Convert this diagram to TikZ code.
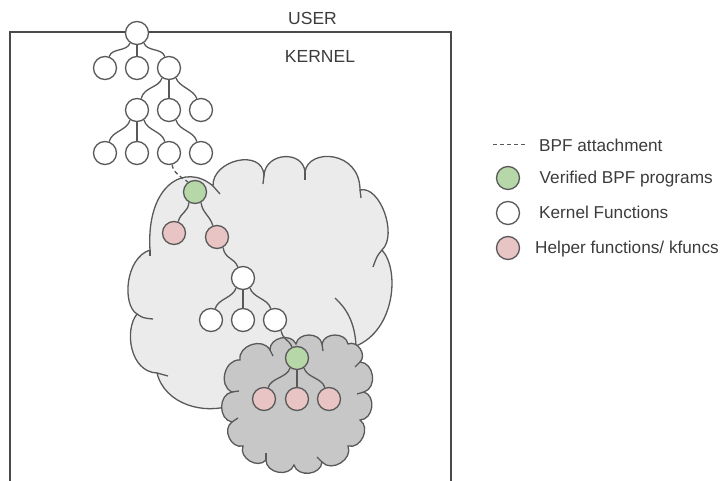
\documentclass[tikz,border=0pt]{standalone}
\usepackage{fontspec}
\setmainfont{Liberation Sans}
\definecolor{linec}{HTML}{595959}
\definecolor{boxc}{HTML}{4A4A4A}
\definecolor{cloudA}{HTML}{EBEBEB}
\definecolor{cloudB}{HTML}{C7C7C7}
\definecolor{greenf}{HTML}{B6D7A8}
\definecolor{pinkf}{HTML}{E9C4C4}
\definecolor{txtc}{HTML}{3C3C3C}
\begin{document}
\begin{tikzpicture}[x=1pt,y=-1pt,
  fn/.style={circle, draw=linec, line width=1.3pt, minimum size=23pt, inner sep=0pt, fill=white},
  vp/.style={fn, fill=greenf},
  hp/.style={fn, fill=pinkf},
  link/.style={draw=linec, line width=1.3pt},
  cl/.style={draw=linec, line width=1.3pt},
  bump/.style={bend left=80, looseness=1.2},
  lbl/.style={font=\fontsize{17.5}{20}\selectfont, inner sep=0pt, text=txtc},
  lgd/.style={font=\fontsize{17.2}{20}\selectfont, inner sep=0pt, text=txtc, anchor=base west}]
\useasboundingbox (0,0) rectangle (726,481);
% kernel box
\draw[draw=boxc, line width=2pt] (10,481) -- (10,32) -- (451,32) -- (451,481);
\node[lbl, anchor=base] (user) at (312.5,25) {USER};
\node[lbl, anchor=base] (kernel) at (320,63) {KERNEL};
% big cloud
\path[cl, fill=cloudA]
 (150,250) .. controls (146,185) and (185,162) .. (213,186)
 .. controls (212,160) and (262,148) .. (264,175)
 .. controls (266,152) and (303,150) .. (305,172)
 .. controls (308,148) and (360,150) .. (360,190)
 .. controls (380,185) and (398,235) .. (382,250)
 .. controls (400,270) and (395,330) .. (356,346)
 -- (340,380) -- (232,405)
 .. controls (205,415) and (165,405) .. (157,373)
 .. controls (130,372) and (124,330) .. (137,314)
 .. controls (122,305) and (125,258) .. (150,250) -- cycle;
\draw[cl] (213,186) -- (220,194);
\draw[cl] (264,175) -- (263,184);
\draw[cl] (305,172) -- (305,180);
\draw[cl] (360,190) -- (361,198);
\draw[cl] (382,250) .. controls (377,256) .. (373,267);
\draw[cl] (335,298) .. controls (346,308) and (355,322) .. (356,346);
\draw[cl] (137,314) .. controls (143,318) .. (153,319);
\draw[cl] (157,373) -- (168,376);
\draw[cl] (150,250) -- (150,256);
% small cloud
\path[cl, fill=cloudB] (240,360) to[bump] (270,350) to[bump] (296,344) to[bump] (322,344)
 to[bump] (348,344) to[bump] (360,362) to[bump] (364,392) to[bump] (360,420)
 to[bump] (348,446) to[bump] (322,462) to[bump] (294,465) to[bump] (266,460)
 to[bump] (243,446) to[bump] (232,422) to[bump] (232,392) to[bump] (240,360) -- cycle;
\draw[cl] (270,350) -- (273,356);
\draw[cl] (322,344) -- (323,351);
\draw[cl] (360,362) -- (355,367);
\draw[cl] (364,392) -- (357,394);
\draw[cl] (322,462) -- (317,457);
\draw[cl] (266,460) -- (266,453);
\draw[cl] (232,422) -- (238,418);
\draw[cl] (232,392) -- (239,391);
% nodes
\node[fn] (r) at (137,33) {};
\node[fn] (a1) at (105,68) {};
\node[fn] (a2) at (137,68) {};
\node[fn] (a3) at (169,68) {};
\node[fn] (b1) at (137,110) {};
\node[fn] (b2) at (169,110) {};
\node[fn] (b3) at (201,110) {};
\node[fn] (c1) at (105,153) {};
\node[fn] (c2) at (137,153) {};
\node[fn] (c3) at (169,153) {};
\node[fn] (c4) at (201,153) {};
\node[vp] (g1) at (195,192) {};
\node[hp] (p1) at (174,233) {};
\node[hp] (p2) at (217,237) {};
\node[fn] (w0) at (243,278) {};
\node[fn] (w1) at (211,320) {};
\node[fn] (w2) at (243,320) {};
\node[fn] (w3) at (275,320) {};
\node[vp] (g2) at (297,358) {};
\node[hp] (q1) at (264,399) {};
\node[hp] (q2) at (297,399) {};
\node[hp] (q3) at (329,399) {};
% edges
\draw[link] (r) -- (a2);
\draw[link] (r.235) .. controls +(-3,9) and +(3,-9) .. (a1.70);
\draw[link] (r.305) .. controls +(3,9) and +(-3,-9) .. (a3.110);
\draw[link] (a3) -- (b2);
\draw[link] (a3.235) .. controls +(-3,10) and +(3,-12) .. (b1.70);
\draw[link] (a3.305) .. controls +(3,9) and +(-3,-9) .. (b3.110);
\draw[link] (b1) -- (c2);
\draw[link] (b1.235) .. controls +(-3,11) and +(3,-11) .. (c1.70);
\draw[link] (b1.305) .. controls +(3,11) and +(-3,-11) .. (c3.110);
\draw[link] (b2.305) .. controls +(3,11) and +(-3,-11) .. (c4.110);
\draw[link, dash pattern=on 4pt off 3pt] (c3.285) .. controls +(1,8) and +(-7,-5) .. (g1.125);
\draw[link] (g1.240) .. controls +(-1,10) and +(3,-10) .. (p1.70);
\draw[link] (g1.300) .. controls +(1,10) and +(-3,-10) .. (p2.110);
\draw[link] (p2.300) .. controls +(2,12) and +(-4,-10) .. (w0.115);
\draw[link] (w0) -- (w2);
\draw[link] (w0.235) .. controls +(-3,10) and +(3,-10) .. (w1.70);
\draw[link] (w0.305) .. controls +(3,10) and +(-3,-10) .. (w3.110);
\draw[link] (w3.300) .. controls +(2,10) and +(-3,-8) .. (g2.115);
\draw[link] (g2) -- (q2);
\draw[link] (g2.235) .. controls +(-3,10) and +(3,-10) .. (q1.70);
\draw[link] (g2.305) .. controls +(3,10) and +(-3,-10) .. (q3.110);
% legend
\coordinate (d1) at (493,145);
\coordinate (d2) at (527,145);
\draw[link, line width=1pt, dash pattern=on 4pt off 3pt] (d1) -- (d2);
\node[lgd] (t1) at (539,152) {BPF attachment};
\node[vp] (lg) at (508,178) {};
\node[lgd] (t2) at (539.5,184) {Verified BPF programs};
\node[fn] (lk) at (508,213) {};
\node[lgd] (t3) at (539,219) {Kernel Functions};
\node[hp] (lh) at (508,248) {};
\node[lgd] (t4) at (535,254) {Helper functions/ kfuncs};
\end{tikzpicture}
\end{document}
